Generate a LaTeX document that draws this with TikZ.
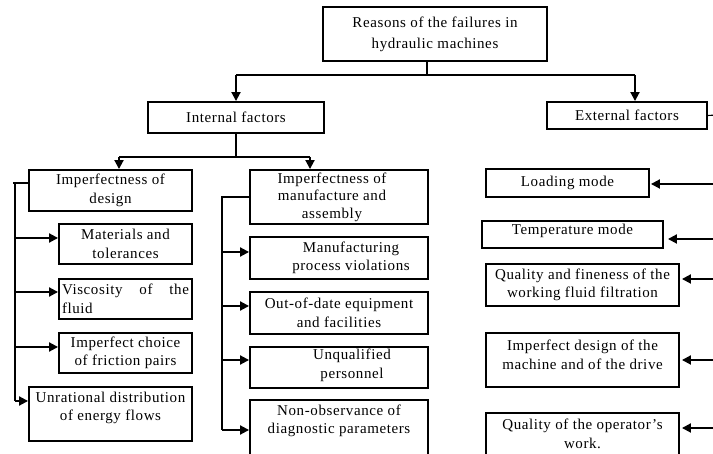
\documentclass[tikz,border=0pt]{standalone}
\usepackage{fontspec}
\usetikzlibrary{arrows.meta}
\newfontfamily\boxfont{Liberation Serif}[LetterSpace=4]
\begin{document}
\begin{tikzpicture}[x=1pt,y=-1pt,
  txt/.style={align=center, inner sep=0pt, font=\boxfont\fontsize{15}{18.5}\selectfont},
  box/.style={draw, line width=1.9pt, txt},
  conn/.style={line width=1.9pt},
  thinline/.style={line width=1.1pt},
  arr/.style={line width=1.9pt, -{Triangle[length=9pt,width=9pt]}}]
\useasboundingbox (0,0) rectangle (713,454);

% root and the two groups of factors
\node[box, minimum width=224pt, minimum height=54pt, font=\boxfont\fontsize{15}{21}\selectfont] (root) at (435,34)
  {Reasons of the failures in\\hydraulic machines};
\node[box, minimum width=176pt, minimum height=31pt] (int) at (236,117.5) {Internal factors};
\node[box, minimum width=160pt, minimum height=27pt] (ext) at (627,115.5) {External factors};

% internal factors: design
\node[box, minimum width=163pt, minimum height=41pt] (design) at (110.5,190.5) {Imperfectness of\\design};
\node[box, minimum width=133pt, minimum height=40pt] (mat) at (125.5,244) {Materials and\\tolerances};
\node[box, minimum width=133pt, minimum height=40pt, align=left, text width=127pt] (visc) at (125.5,299)
  {Viscosity\hspace{\fill}of\hspace{\fill}the\\fluid};
\node[box, minimum width=133pt, minimum height=40pt] (fric) at (125.5,353) {Imperfect choice\\of friction pairs};
\node[box, minimum width=163pt, minimum height=54pt,
  label={[txt, yshift=6pt]center:Unrational distribution\\of energy flows}] (unr) at (110.5,414) {};

% internal factors: manufacture
\node[box, minimum width=178pt, minimum height=54pt,
  label={[txt, xshift=-7pt, font=\boxfont\fontsize{15}{17.5}\selectfont]center:Imperfectness of\\manufacture and\\assembly}] (manu) at (339,197) {};
\node[box, minimum width=178pt, minimum height=42pt,
  label={[txt, xshift=12pt]center:Manufacturing\\process violations}] (mproc) at (339,258) {};
\node[box, minimum width=178pt, minimum height=42pt] (outd) at (339,313) {Out-of-date equipment\\and facilities};
\node[box, minimum width=178pt, minimum height=41pt,
  label={[txt, xshift=13pt, yshift=2pt]center:Unqualified\\personnel}] (unq) at (339,367.5) {};
\node[box, minimum width=178pt, minimum height=60pt,
  label={[txt, yshift=9pt]center:Non-observance of\\diagnostic parameters}] (nonobs) at (339,430) {};

% external factors
\node[box, minimum width=163pt, minimum height=28pt] (load) at (567.5,183) {Loading mode};
\node[box, minimum width=181pt, minimum height=27pt,
  label={[txt, yshift=4pt]center:Temperature mode}] (temp) at (572.5,234.5) {};
\node[box, minimum width=193pt, minimum height=42pt] (qual) at (582.5,285)
  {Quality and fineness of the\\working fluid filtration};
\node[box, minimum width=193pt, minimum height=54pt,
  label={[txt, yshift=5pt]center:Imperfect design of the\\machine and of the drive}] (impd) at (582.5,360) {};
\node[box, minimum width=193pt, minimum height=50pt,
  label={[txt, yshift=4pt]center:Quality of the operator’s\\work.}] (oper) at (582.5,438) {};

% top level connectors
\coordinate (stem) at (427,75);
\coordinate (tL) at (236,75);
\coordinate (tR) at (635,75);
\draw[conn] (root.south -| stem) -- (stem);
\draw[thinline] (tL) -- (tR);
\draw[arr] (tL) -- (int.north);
\draw[arr] (tR) -- (tR |- ext.north);

% internal factors split
\coordinate (iB) at (236,157);
\coordinate (iL) at (119,157);
\coordinate (iR) at (310,157);
\draw[conn] (int.south) -- (iB);
\draw[conn] (iL) -- (iR);
\draw[arr] (iL) -- (iL |- design.north);
\draw[arr] (iR) -- (iR |- manu.north);

% design bus
\coordinate (lT) at (15,183);
\coordinate (l1) at (15,238);
\coordinate (l2) at (15,292);
\coordinate (l3) at (15,347);
\coordinate (l4) at (15,401);
\draw[thinline] (lT -| design.west) -- ([xshift=-2pt]lT);
\draw[conn] (lT) -- (l4);
\draw[arr] (l1) -- (l1 -| mat.west);
\draw[arr] (l2) -- (l2 -| visc.west);
\draw[arr] (l3) -- (l3 -| fric.west);
\draw[arr] (l4) -- (l4 -| unr.west);

% manufacture bus
\coordinate (mT) at (222,197);
\coordinate (m1) at (222,252);
\coordinate (m2) at (222,306);
\coordinate (m3) at (222,360);
\coordinate (m4) at (222,430);
\draw[thinline] (manu.west) -- ([xshift=-1pt]mT);
\draw[conn] (mT) -- (m4);
\draw[arr] (m1) -- (m1 -| mproc.west);
\draw[arr] (m2) -- (m2 -| outd.west);
\draw[arr] (m3) -- (m3 -| unq.west);
\draw[arr] (m4) -- (m4 -| nonobs.west);

% external factors feed from the right
\coordinate (r0) at (716,115);
\coordinate (r1) at (716,184);
\coordinate (r2) at (716,239);
\coordinate (r3) at (716,279);
\coordinate (r4) at (716,360);
\coordinate (r5) at (716,428);
\draw[thinline] (ext.east) -- (r0);
\draw[arr, shorten >=1pt] (r1) -- (r1 -| load.east);
\draw[arr, shorten >=4pt] (r2) -- (r2 -| temp.east);
\draw[arr, shorten >=2pt] (r3) -- (r3 -| qual.east);
\draw[arr, shorten >=2pt] (r4) -- (r4 -| impd.east);
\draw[arr, shorten >=2pt] (r5) -- (r5 -| oper.east);
\end{tikzpicture}
\end{document}
